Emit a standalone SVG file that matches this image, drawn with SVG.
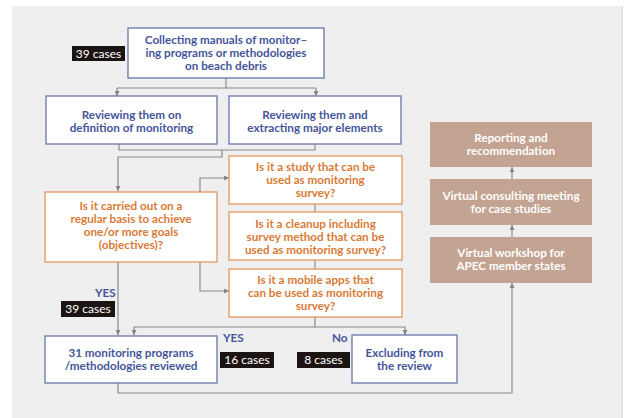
<svg xmlns="http://www.w3.org/2000/svg" width="625" height="418" viewBox="0 0 625 418">
<defs>
<marker id="ar" viewBox="0 0 6 6" refX="6" refY="3" markerWidth="5" markerHeight="5" orient="auto" markerUnits="userSpaceOnUse">
<path d="M0,0 L6,3 L0,6 z" fill="#858585"/>
</marker>
<style>
text{font-family:Lato,"Open Sans","Liberation Sans",sans-serif;font-size:11.7px;font-weight:bold;text-anchor:middle}
.bb{fill:#fff;stroke:#6674ad;stroke-width:1.3}
.ob{fill:#fff;stroke:#e4955f;stroke-width:1.3}
.rb{fill:#c3a391;stroke:none}
.bt{fill:#45559a}
.ot{fill:#d97a36}
.wt{fill:#fff}
.lt{fill:#fff;font-weight:normal;font-size:12px}
.lbl{fill:#1c1412}
.c{fill:none;stroke:#8a8a8a;stroke-width:1.2}
.yes{fill:#45559a;text-anchor:start}
</style>
</defs>
<rect x="0" y="0" width="625" height="418" fill="#fff"/>
<rect x="12" y="6" width="610" height="412" fill="#efefef"/>
<rect x="621" y="6" width="2" height="412" fill="#e2e2e2"/>

<g id="connectors">
<path class="c" d="M226,78 V88"/>
<path class="c" d="M117,88 H316"/>
<path class="c" d="M117,88 V96" marker-end="url(#ar)"/>
<path class="c" d="M316,88 V96" marker-end="url(#ar)"/>
<path class="c" d="M119,144 V150 H315 V144"/>
<path class="c" d="M222,150 V157 H118 V191" marker-end="url(#ar)"/>
<path class="c" d="M200,192 V178 H229" marker-end="url(#ar)"/>
<path class="c" d="M200,262 V291 H229" marker-end="url(#ar)"/>
<path class="c" d="M315,204 V212"/>
<path class="c" d="M315,260 V269"/>
<path class="c" d="M118,262 V335" marker-end="url(#ar)"/>
<path class="c" d="M315,317 V327 H134 V335" marker-end="url(#ar)"/>
<path class="c" d="M315,327 H405 V335" marker-end="url(#ar)"/>
<path class="c" d="M118,383 V393 H512 V283" marker-end="url(#ar)"/>
<path class="c" d="M512,237 V225" marker-end="url(#ar)"/>
<path class="c" d="M512,179 V167" marker-end="url(#ar)"/>
</g>

<g id="n-collect">
<rect class="bb" x="128" y="28" width="196" height="50"/>
<text class="bt" x="226" y="44">Collecting manuals of monitor–</text>
<text class="bt" x="226" y="57">ing programs or methodologies</text>
<text class="bt" x="226" y="70">on beach debris</text>
</g>
<g id="lbl-39a">
<rect class="lbl" x="72" y="46" width="53" height="15"/>
<text class="lt" x="98.5" y="57.5">39 cases</text>
</g>

<g id="n-review-def">
<rect class="bb" x="46" y="96" width="171" height="48"/>
<text class="bt" x="131.5" y="119">Reviewing them on</text>
<text class="bt" x="131.5" y="132">definition of monitoring</text>
</g>
<g id="n-review-extract">
<rect class="bb" x="229" y="96" width="172" height="48"/>
<text class="bt" x="315" y="119">Reviewing them and</text>
<text class="bt" x="315" y="132">extracting major elements</text>
</g>

<g id="n-regular">
<rect class="ob" x="45" y="192" width="172" height="70"/>
<text class="ot" x="131" y="210">Is it carried out on a</text>
<text class="ot" x="131" y="223">regular basis to achieve</text>
<text class="ot" x="131" y="236">one/or more goals</text>
<text class="ot" x="131" y="249">(objectives)?</text>
</g>

<g id="n-study">
<rect class="ob" x="229" y="156" width="173" height="48"/>
<text class="ot" x="315.5" y="171">Is it a study that can be</text>
<text class="ot" x="315.5" y="184">used as monitoring</text>
<text class="ot" x="315.5" y="197">survey?</text>
</g>
<g id="n-cleanup">
<rect class="ob" x="229" y="212" width="173" height="48"/>
<text class="ot" x="315.5" y="228">Is it a cleanup including</text>
<text class="ot" x="315.5" y="241">survey method that can be</text>
<text class="ot" x="315.5" y="254">used as monitoring survey?</text>
</g>
<g id="n-mobile">
<rect class="ob" x="229" y="269" width="173" height="48"/>
<text class="ot" x="315.5" y="284">Is it a mobile apps that</text>
<text class="ot" x="315.5" y="297">can be used as monitoring</text>
<text class="ot" x="315.5" y="310">survey?</text>
</g>

<g id="lbl-yes1">
<text class="yes" x="95" y="297">YES</text>
<rect class="lbl" x="61" y="301" width="54" height="16"/>
<text class="lt" x="88" y="313">39 cases</text>
</g>

<g id="n-reviewed">
<rect class="bb" x="45" y="336" width="172" height="47"/>
<text class="bt" x="131" y="357">31 monitoring programs</text>
<text class="bt" x="131" y="370">/methodologies reviewed</text>
</g>
<g id="lbl-yes2">
<text class="yes" x="223" y="342">YES</text>
<rect class="lbl" x="220" y="352" width="54" height="16"/>
<text class="lt" x="247" y="364">16 cases</text>
</g>
<g id="lbl-no">
<text class="yes" x="332" y="342">No</text>
<rect class="lbl" x="297" y="352" width="53" height="16"/>
<text class="lt" x="323.5" y="364">8 cases</text>
</g>
<g id="n-exclude">
<rect class="bb" x="352" y="335" width="105" height="48"/>
<text class="bt" x="404.5" y="357">Excluding from</text>
<text class="bt" x="404.5" y="370">the review</text>
</g>

<g id="n-reporting">
<rect class="rb" x="430" y="122" width="162" height="45"/>
<text class="wt" x="511" y="142">Reporting and</text>
<text class="wt" x="511" y="155">recommendation</text>
</g>
<g id="n-consult">
<rect class="rb" x="430" y="179" width="162" height="46"/>
<text class="wt" x="511" y="200">Virtual consulting meeting</text>
<text class="wt" x="511" y="213">for case studies</text>
</g>
<g id="n-workshop">
<rect class="rb" x="430" y="237" width="162" height="46"/>
<text class="wt" x="511" y="257">Virtual workshop for</text>
<text class="wt" x="511" y="270">APEC member states</text>
</g>
</svg>
